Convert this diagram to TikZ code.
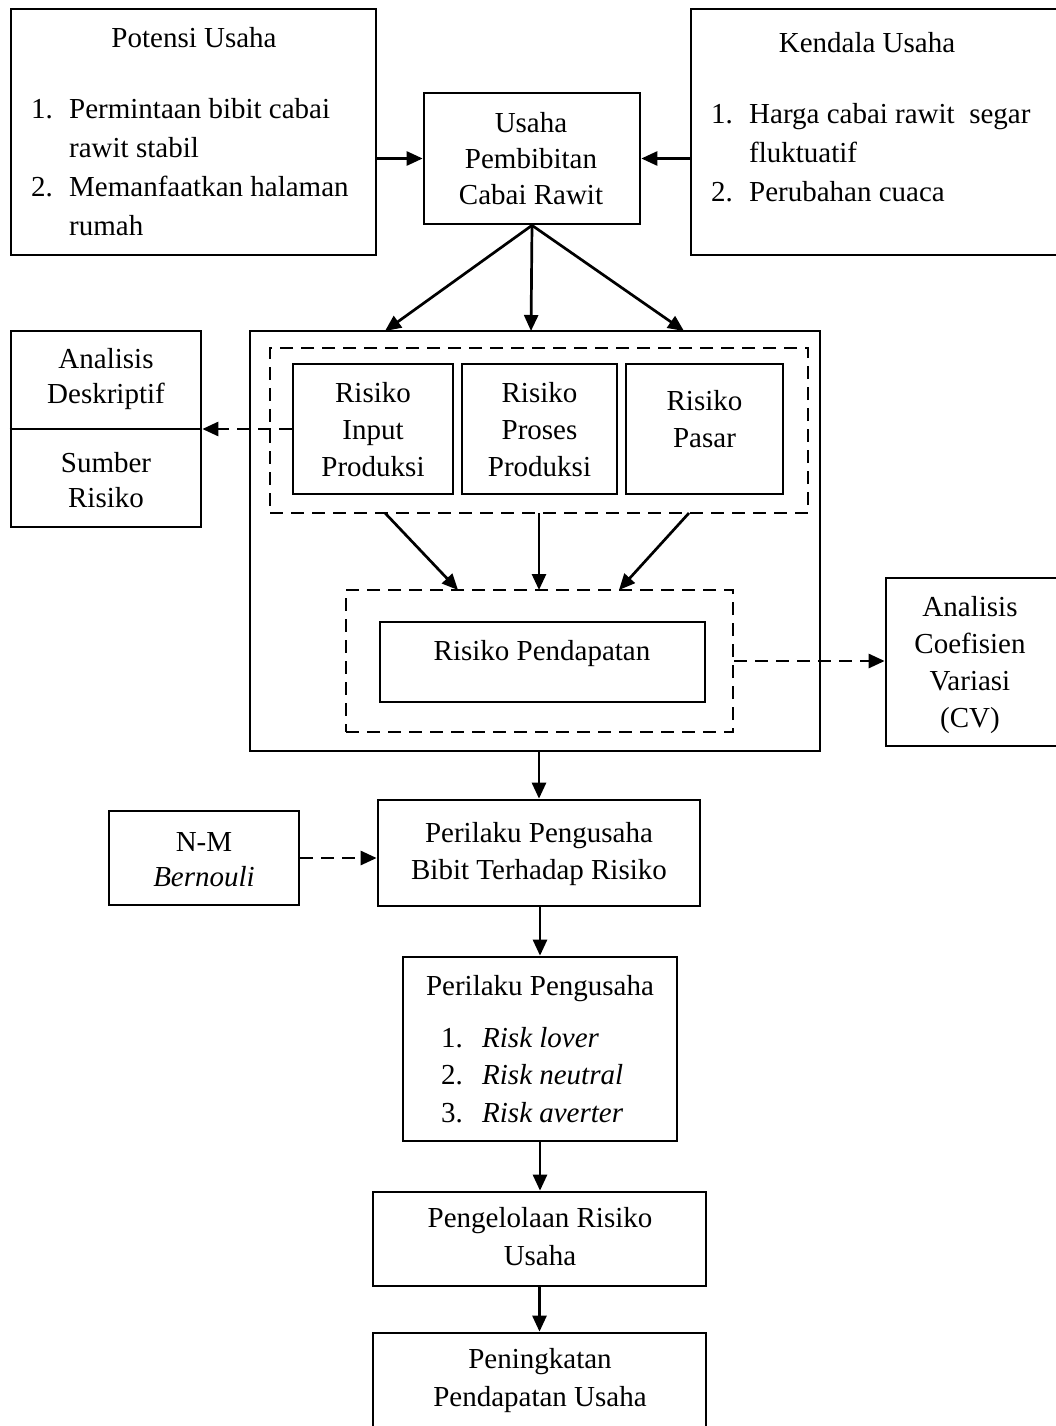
\documentclass[tikz,border=0pt]{standalone}
\usepackage{fontspec}
\setmainfont{Liberation Serif}
\usetikzlibrary{fit,arrows.meta}
\tikzset{
 box/.style={draw, line width=2.7pt, inner sep=0pt},
 thinbox/.style={draw, line width=1.6pt, inner sep=0pt},
 dbox/.style={draw, line width=2.7pt, dash pattern=on 13pt off 8pt, inner sep=0pt},
 lbl/.style={anchor=north, inner sep=0pt, align=center, font=\fontsize{29}{37}\selectfont},
 lst/.style={anchor=north west, inner sep=0pt, align=left, font=\fontsize{29}{39}\selectfont},
 arr/.style={line width=2.7pt, -{Triangle[length=16pt,width=14pt]}},
 darr/.style={arr, dash pattern=on 13pt off 8pt},
}
\begin{document}
\begin{tikzpicture}[x=1pt,y=-1pt]
\useasboundingbox (0,0) rectangle (1056,1426);
\clip (0,0) rectangle (1056,1426);
% boxes
\node[box, fit={(11,9) (376,255)}] (potensi) {};
\node[box, fit={(424,93) (640,224)}] (usaha) {};
\node[box, fit={(691,9) (1064,255)}] (kendala) {};
\node[box, fit={(11,331) (201,527)}] (ad) {};
\node[box, fit={(250,331) (820,751)}] (outer) {};
\node[dbox, fit={(270,348) (808,513)}] (dash1) {};
\node[box, fit={(293,364) (453,494)}] (input) {};
\node[box, fit={(462,364) (617,494)}] (proses) {};
\node[box, fit={(626,364) (783,494)}] (pasar) {};
\node[dbox, fit={(346,590) (733,732)}] (dash2) {};
\node[thinbox, fit={(380,622) (705,702)}] (pend) {};
\node[box, fit={(886,578) (1064,746)}] (cv) {};
\node[box, fit={(109,811) (299,905)}] (nm) {};
\node[box, fit={(378,800) (700,906)}] (per1) {};
\node[box, fit={(403,957) (677,1141)}] (per2) {};
\node[box, fit={(373,1192) (706,1286)}] (peng) {};
\node[box, fit={(373,1333) (706,1440)}] (ningkat) {};
% labels
\node[lbl] (potensiT) at (194,27) {Potensi Usaha};
\node[lst] (potensiL) at (31,98) {\makebox[38pt][l]{1.}Permintaan bibit cabai\\\hspace*{38pt}rawit stabil\\\makebox[38pt][l]{2.}Memanfaatkan halaman\\\hspace*{38pt}rumah};
\node[lbl] (kendalaT) at (867,32) {Kendala Usaha};
\node[lst] (kendalaL) at (711,103) {\makebox[38pt][l]{1.}Harga cabai rawit \ segar\\\hspace*{38pt}fluktuatif\\\makebox[38pt][l]{2.}Perubahan cuaca};
\node[lbl, font=\fontsize{29}{36}\selectfont] (usahaT) at (531,112) {Usaha\\Pembibitan\\Cabai Rawit};
\node[lbl] (inputT) at (373,382) {Risiko\\Input\\Produksi};
\node[lbl] (prosesT) at (539.5,382) {Risiko\\Proses\\Produksi};
\node[lbl] (pasarT) at (704.5,390) {Risiko\\Pasar};
\node[lbl, font=\fontsize{29}{35}\selectfont] (adT1) at (106,348) {Analisis\\Deskriptif};
\node[lbl, font=\fontsize{29}{35}\selectfont] (adT2) at (106,452) {Sumber\\Risiko};
\node[lbl] (pendT) at (542,640) {Risiko Pendapatan};
\node[lbl] (cvT) at (970,596) {Analisis\\Coefisien\\Variasi\\(CV)};
\node[lbl, font=\fontsize{29}{35}\selectfont] (nmT) at (204,832) {N-M\\\textit{Bernouli}};
\node[lbl] (per1T) at (539,822) {Perilaku Pengusaha\\Bibit Terhadap Risiko};
\node[lbl] (per2T) at (540,975) {Perilaku Pengusaha};
\node[lst, font=\fontsize{29}{37.5}\selectfont] (per2L) at (441,1027) {\makebox[41pt][l]{1.}\textit{Risk lover}\\\makebox[41pt][l]{2.}\textit{Risk neutral}\\\makebox[41pt][l]{3.}\textit{Risk averter}};
\node[lbl, font=\fontsize{29}{38}\selectfont] (pengT) at (540,1207) {Pengelolaan Risiko\\Usaha};
\node[lbl, font=\fontsize{29}{38}\selectfont] (ningkatT) at (540,1348) {Peningkatan\\Pendapatan Usaha};
% divider
\draw[line width=1.6pt] (ad.west |- input.west) -- (ad.east |- input.west);
% coordinates
\coordinate (t1) at (385,331);
\coordinate (t2) at (531,331);
\coordinate (t3) at (684,331);
\coordinate (a1) at (385,513);
\coordinate (b1) at (458,590);
\coordinate (a2) at (539,513);
\coordinate (b2) at (539,590);
\coordinate (a3) at (689,513);
\coordinate (b3) at (619,590);
% connectors
\draw[arr] (potensi.east |- usaha.west) -- (usaha.west);
\draw[arr] (kendala.west |- usaha.east) -- (usaha.east);
\draw[arr] (usaha.south) -- (t1);
\draw[arr] (usaha.south) -- (t2);
\draw[arr] (usaha.south) -- (t3);
\draw[arr] (a1) -- (b1);
\draw[arr] (a2) -- (b2);
\draw[arr] (a3) -- (b3);
\draw[darr] (input.west) -- (ad.east |- input.west);
\draw[darr] (dash2.east) -- (cv.west |- dash2.east);
\draw[arr] (per1.north |- outer.south) -- (per1.north);
\draw[darr] (nm.east) -- (per1.west |- nm.east);
\draw[arr] (per2.north |- per1.south) -- (per2.north);
\draw[arr] (per2.south) -- (peng.north -| per2.south);
\draw[arr] (peng.south) -- (ningkat.north -| peng.south);
\end{tikzpicture}
\end{document}
